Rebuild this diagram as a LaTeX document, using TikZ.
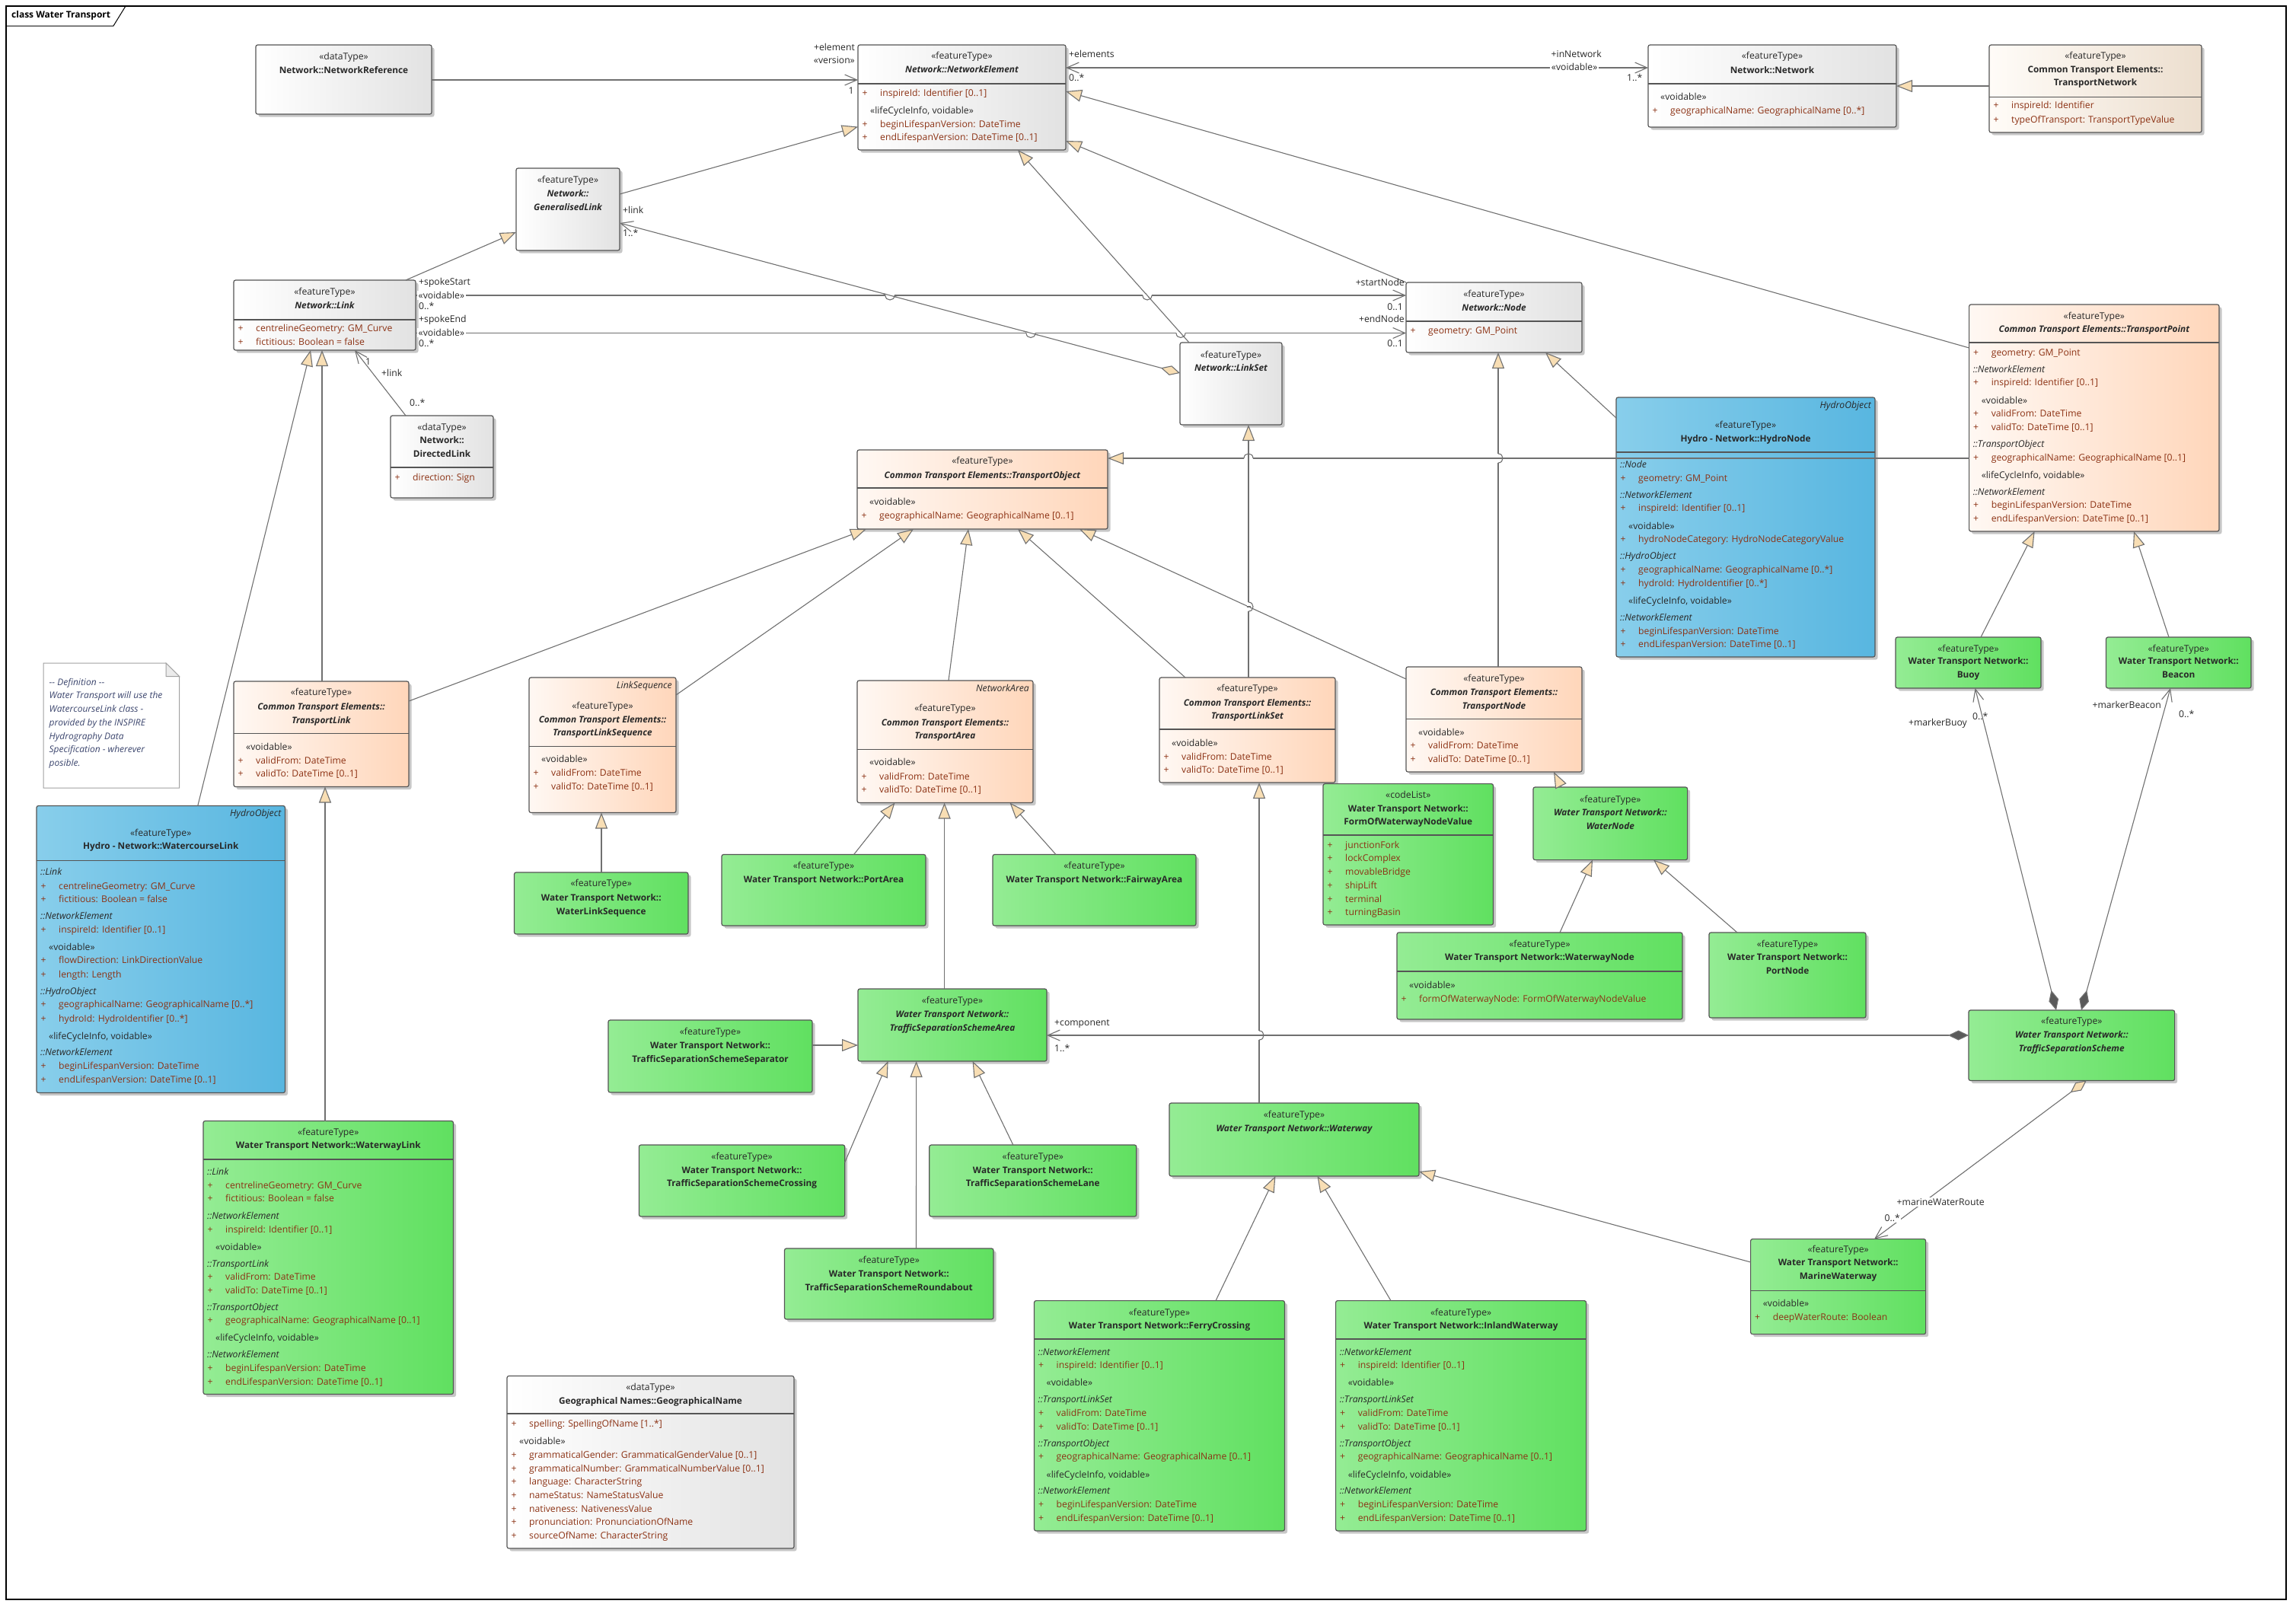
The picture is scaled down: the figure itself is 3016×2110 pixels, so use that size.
\documentclass[tikz,border=0pt]{standalone}
\usepackage{fontspec}
\setmainfont{Open Sans}
\usetikzlibrary{arrows.meta,shadows,calc}
\definecolor{bord}{RGB}{85,85,85}
\definecolor{conn}{RGB}{112,112,112}
\definecolor{txt}{RGB}{40,40,40}
\definecolor{attr}{RGB}{140,50,20}
\definecolor{tri}{RGB}{248,222,180}
\definecolor{dia}{RGB}{90,90,90}
\definecolor{netL}{RGB}{255,255,255}
\definecolor{netR}{RGB}{226,226,226}
\definecolor{cteL}{RGB}{255,248,243}
\definecolor{cteR}{RGB}{255,214,186}
\definecolor{tnL}{RGB}{255,252,248}
\definecolor{tnR}{RGB}{236,222,206}
\definecolor{grL}{RGB}{148,236,148}
\definecolor{grR}{RGB}{96,224,96}
\definecolor{blL}{RGB}{136,206,235}
\definecolor{blR}{RGB}{88,182,224}
\definecolor{notec}{RGB}{60,70,110}
\definecolor{notebd}{RGB}{160,160,160}
\newcommand\fsz{\fontsize{12.2}{14}\selectfont}
\newcommand\bfsz{\fontsize{11.8}{14}\selectfont}
\newcommand\nfsz{\fontsize{12}{14}\selectfont}
\newcount\tn
\newcommand\cls[6]{\node[#6, minimum width=#4pt, minimum height=#5pt] (#1) at (#2,#3) {};}
\newcommand\dv[2]{\draw[divl] (#1.west |- 0,#2) -- (#1.east |- 0,#2);}
\newcommand\Hd[4]{\global\advance\tn by 1 \node[#1] (t\the\tn) at (#2.north |- 0,#3) {#4};}
\newcommand\Att[3]{\global\advance\tn by 1 \node[pl] (t\the\tn) at ($(#1.west |- 0,#2)+(9,0)$) {+};%
 \global\advance\tn by 1 \node[atx] (t\the\tn) at ($(#1.west |- 0,#2)+(29,0)$) {#3};}
\newcommand\Sec[3]{\global\advance\tn by 1 \node[sec] (t\the\tn) at ($(#1.west |- 0,#2)+(5,0)$) {#3};}
\newcommand\Ster[3]{\global\advance\tn by 1 \node[ster] (t\the\tn) at ($(#1.west |- 0,#2)+(16,0)$) {#3};}
\newcommand\Itr[3]{\global\advance\tn by 1 \node[sec, anchor=mid east] (t\the\tn) at ($(#1.east |- 0,#2)+(-5,0)$) {#3};}
\newcommand\Lb[5]{\global\advance\tn by 1 \node[#1, anchor=#2] (t\the\tn) at (#3,#4) {#5};}
\newcommand\vjump[2]{\fill[white] ({#1-2},{#2-6}) rectangle ({#1+2},{#2+6});
 \draw[cn] ({#1-2.5},#2) -- ({#1+2.5},#2);
 \draw[cn] (#1,{#2-6}) .. controls ({#1+8},{#2-6}) and ({#1+8},{#2+6}) .. (#1,{#2+6});}
\newcommand\hjmp[4]{\fill[white] ({#1-6},{#2-2}) rectangle ({#1+6},{#2+2});
 \draw[cn] ({#1-2.5*#3},{#2-2.5}) -- ({#1+2.5*#3},{#2+2.5});
 \draw[cn] ({#1-6},#2) .. controls ({#1-6},{#2+#4}) and ({#1+6},{#2+#4}) .. ({#1+6},#2);}
\tikzset{
 boxbase/.style={draw=bord, line width=1.2pt, rounded corners=2.5pt, inner sep=0pt, outer sep=0pt, anchor=north west,
   drop shadow={shadow xshift=3.5pt, shadow yshift=-3.5pt, fill=black, opacity=.22}},
 netbox/.style={boxbase, left color=netL, right color=netR},
 ctebox/.style={boxbase, left color=cteL, right color=cteR},
 tnbox/.style={boxbase, left color=tnL, right color=tnR},
 grbox/.style={boxbase, left color=grL, right color=grR},
 bluebox/.style={boxbase, left color=blL, right color=blR},
 divl/.style={draw=bord, line width=1.2pt},
 st/.style={font=\fsz, text=txt, inner sep=0pt, anchor=mid},
 nb/.style={st, font=\bfsz\bfseries},
 nbi/.style={st, font=\bfsz\bfseries\itshape},
 pl/.style={font=\fsz, text=attr, inner sep=0pt, anchor=mid},
 atx/.style={font=\fsz, text=attr, inner sep=0pt, anchor=mid west},
 sec/.style={font=\fsz\itshape, text=txt, inner sep=0pt, anchor=mid west},
 ster/.style={font=\fsz, text=txt, inner sep=0pt, anchor=mid west},
 lab/.style={font=\fsz, text=txt, inner sep=0pt},
 labw/.style={lab, fill=white, inner sep=1.5pt},
 notet/.style={font=\nfsz\itshape, text=notec, inner sep=0pt, anchor=mid west},
 cn/.style={draw=conn, line width=1.1pt},
 gen/.style={cn, -{Triangle[length=21pt,width=16pt,fill=tri]}},
 asc/.style={cn, -{Straight Barb[length=16pt,width=14pt]}},
 asc2/.style={cn, {Straight Barb[length=16pt,width=14pt]}-{Straight Barb[length=16pt,width=14pt]}},
 comp/.style={cn, {Diamond[length=27pt,width=13pt,fill=dia]}-{Straight Barb[length=16pt,width=14pt]}},
 aggr/.style={cn, {Diamond[length=26pt,width=13pt,fill=tri]}-{Straight Barb[length=16pt,width=14pt]}},
}
\begin{document}
\begin{tikzpicture}[x=1pt,y=-1pt]
\useasboundingbox (0,0) rectangle (3016,2110);
\fill[white] (0,0) rectangle (3016,2110);
\draw[black, line width=1.2pt] (8,8) rectangle (3003,2101);
\draw[black, line width=1pt] (8,34) -- (149,34) -- (165,8);
\node[anchor=mid west, font=\fontsize{12}{14}\selectfont\bfseries, inner sep=0pt] (title) at (15,21) {class Water Transport};

% ---------- boxes
\cls{netref}{336}{59}{231}{91}{netbox}
\cls{ne}{1127}{59}{273}{138}{netbox}
\cls{network}{2165}{59}{326}{108}{netbox}
\cls{genlink}{678}{221}{136}{108}{netbox}
\cls{link}{307}{368}{239}{92}{netbox}
\cls{dirlink}{513}{546}{135}{108}{netbox}
\cls{node}{1847}{371}{231}{92}{netbox}
\cls{linkset}{1550}{450}{134}{108}{netbox}
\cls{geoname}{666}{1807.5}{377}{226.5}{netbox}
\cls{tnet}{2613}{59}{279}{115}{tnbox}
\cls{tpoint}{2586.6}{400}{328.4}{298}{ctebox}
\cls{tobj}{1126}{591}{329}{104}{ctebox}
\cls{tlink}{307}{895}{230}{138.5}{ctebox}
\cls{tlseq}{695}{890}{193}{177.5}{ctebox}
\cls{tarea}{1126}{894}{231}{160.5}{ctebox}
\cls{tlset}{1523}{890}{231}{138}{ctebox}
\cls{tnode}{1847}{876}{231}{138}{ctebox}
\cls{hnode}{2123}{522}{340}{341}{bluebox}
\cls{wclink}{48}{1058.5}{326.5}{377}{bluebox}
\cls{wlseq}{675.5}{1146}{228.5}{81}{grbox}
\cls{portarea}{948}{1122.5}{268}{93.5}{grbox}
\cls{fairway}{1304}{1122.5}{267}{93.5}{grbox}
\cls{fwnv}{1738}{1029.6}{223.5}{185.4}{grbox}
\cls{waternode}{2014}{1034}{202.6}{95.6}{grbox}
\cls{wwnode}{1835}{1225}{375}{114}{grbox}
\cls{portnode}{2245}{1225}{206}{112}{grbox}
\cls{buoy}{2490}{837}{191}{67}{grbox}
\cls{beacon}{2766.5}{837}{190.5}{67}{grbox}
\cls{tss}{2586}{1327}{270.6}{92.5}{grbox}
\cls{tssarea}{1127}{1299}{248}{95}{grbox}
\cls{tsssep}{799}{1340}{268}{95}{grbox}
\cls{tsscross}{839.4}{1504}{270.3}{94}{grbox}
\cls{tsslane}{1220.8}{1504}{272}{94}{grbox}
\cls{tssround}{1030.5}{1640}{274.5}{93}{grbox}
\cls{waterway}{1536}{1449}{328}{96}{grbox}
\cls{marine}{2299.6}{1627.6}{230}{125}{grbox}
\cls{ferry}{1358.5}{1708.6}{329}{302.4}{grbox}
\cls{inland}{1754.6}{1708.6}{329}{302.4}{grbox}
\cls{wwlink}{267}{1472.5}{328.5}{359}{grbox}

% ---------- note
\draw[draw=notebd, fill=white, line width=1pt] (57,871) -- (218,871) -- (235.7,888.7) -- (235.7,1035) -- (57,1035) -- cycle;
\draw[draw=notebd, fill=black!8, line width=1pt] (218,871) -- (218,888.7) -- (235.7,888.7) -- cycle;
\Lb{notet}{mid west}{64.5}{897.8}{-{}- Definition -{}-}
\Lb{notet}{mid west}{64.5}{915}{Water Transport will use the}
\Lb{notet}{mid west}{64.5}{933}{WatercourseLink class -}
\Lb{notet}{mid west}{64.5}{951}{provided by the INSPIRE}
\Lb{notet}{mid west}{64.5}{969}{Hydrography Data}
\Lb{notet}{mid west}{64.5}{986}{Specification - wherever}
\Lb{notet}{mid west}{64.5}{1004}{posible.}

% ---------- box contents
\Hd{st}{netref}{76}{«dataType»}
\Hd{nb}{netref}{94}{Network::NetworkReference}

\dv{ne}{110}
\Hd{st}{ne}{75}{«featureType»}
\Hd{nbi}{ne}{93}{Network::NetworkElement}
\Att{ne}{124}{inspireId: Identifier [0..1]}
\Ster{ne}{147}{«lifeCycleInfo, voidable»}
\Att{ne}{165}{beginLifespanVersion: DateTime}
\Att{ne}{182}{endLifespanVersion: DateTime [0..1]}

\dv{network}{110}
\Hd{st}{network}{75}{«featureType»}
\Hd{nb}{network}{93.5}{Network::Network}
\Ster{network}{129}{«voidable»}
\Att{network}{147}{geographicalName: GeographicalName [0..*]}

\Hd{st}{genlink}{237.5}{«featureType»}
\Hd{nbi}{genlink}{256}{Network::}
\Hd{nbi}{genlink}{274}{GeneralisedLink}

\dv{link}{420}
\Hd{st}{link}{385}{«featureType»}
\Hd{nbi}{link}{403}{Network::Link}
\Att{link}{433}{centrelineGeometry: GM\_Curve}
\Att{link}{451}{fictitious: Boolean = false}

\dv{dirlink}{614}
\Hd{st}{dirlink}{562.5}{«dataType»}
\Hd{nb}{dirlink}{580}{Network::}
\Hd{nb}{dirlink}{598}{DirectedLink}
\Att{dirlink}{629}{direction: Sign}

\dv{node}{422}
\Hd{st}{node}{388}{«featureType»}
\Hd{nbi}{node}{406}{Network::Node}
\Att{node}{436}{geometry: GM\_Point}

\Hd{st}{linkset}{468}{«featureType»}
\Hd{nbi}{linkset}{485}{Network::LinkSet}

\dv{geoname}{1857}
\Hd{st}{geoname}{1823.6}{«dataType»}
\Hd{nb}{geoname}{1841.5}{Geographical Names::GeographicalName}
\Att{geoname}{1872}{spelling: SpellingOfName [1..*]}
\Ster{geoname}{1894.5}{«voidable»}
\Att{geoname}{1913}{grammaticalGender: GrammaticalGenderValue [0..1]}
\Att{geoname}{1930.5}{grammaticalNumber: GrammaticalNumberValue [0..1]}
\Att{geoname}{1948}{language: CharacterString}
\Att{geoname}{1966}{nameStatus: NameStatusValue}
\Att{geoname}{1984}{nativeness: NativenessValue}
\Att{geoname}{2001}{pronunciation: PronunciationOfName}
\Att{geoname}{2019}{sourceOfName: CharacterString}

\dv{tnet}{127.7}
\Hd{st}{tnet}{75}{«featureType»}
\Hd{nb}{tnet}{93}{Common Transport Elements::}
\Hd{nb}{tnet}{110}{TransportNetwork}
\Att{tnet}{140}{inspireId: Identifier}
\Att{tnet}{158.7}{typeOfTransport: TransportTypeValue}

\dv{tpoint}{450}
\Hd{st}{tpoint}{416.4}{«featureType»}
\Hd{nbi}{tpoint}{434}{Common Transport Elements::TransportPoint}
\Att{tpoint}{465}{geometry: GM\_Point}
\Sec{tpoint}{486.4}{::NetworkElement}
\Att{tpoint}{503.6}{inspireId: Identifier [0..1]}
\Ster{tpoint}{527.5}{«voidable»}
\Att{tpoint}{544.6}{validFrom: DateTime}
\Att{tpoint}{562.5}{validTo: DateTime [0..1]}
\Sec{tpoint}{584.6}{::TransportObject}
\Att{tpoint}{602.9}{geographicalName: GeographicalName [0..1]}
\Ster{tpoint}{625.7}{«lifeCycleInfo, voidable»}
\Sec{tpoint}{647.5}{::NetworkElement}
\Att{tpoint}{665}{beginLifespanVersion: DateTime}
\Att{tpoint}{682.9}{endLifespanVersion: DateTime [0..1]}

\dv{tobj}{641}
\Hd{st}{tobj}{607}{«featureType»}
\Hd{nbi}{tobj}{626}{Common Transport Elements::TransportObject}
\Ster{tobj}{661}{«voidable»}
\Att{tobj}{679}{geographicalName: GeographicalName [0..1]}

\dv{tlink}{963.5}
\Hd{st}{tlink}{911}{«featureType»}
\Hd{nbi}{tlink}{930}{Common Transport Elements::}
\Hd{nbi}{tlink}{948}{TransportLink}
\Ster{tlink}{982.5}{«voidable»}
\Att{tlink}{1001}{validFrom: DateTime}
\Att{tlink}{1018}{validTo: DateTime [0..1]}

\dv{tlseq}{980.5}
\Itr{tlseq}{902}{LinkSequence}
\Hd{st}{tlseq}{929}{«featureType»}
\Hd{nbi}{tlseq}{946.5}{Common Transport Elements::}
\Hd{nbi}{tlseq}{963.5}{TransportLinkSequence}
\Ster{tlseq}{999}{«voidable»}
\Att{tlseq}{1016.5}{validFrom: DateTime}
\Att{tlseq}{1035}{validTo: DateTime [0..1]}

\dv{tarea}{984.5}
\Itr{tarea}{906}{NetworkArea}
\Hd{st}{tarea}{932}{«featureType»}
\Hd{nbi}{tarea}{950.5}{Common Transport Elements::}
\Hd{nbi}{tarea}{967.5}{TransportArea}
\Ster{tarea}{1003}{«voidable»}
\Att{tarea}{1021.5}{validFrom: DateTime}
\Att{tarea}{1038.7}{validTo: DateTime [0..1]}

\dv{tlset}{958}
\Hd{st}{tlset}{906}{«featureType»}
\Hd{nbi}{tlset}{925}{Common Transport Elements::}
\Hd{nbi}{tlset}{941.5}{TransportLinkSet}
\Ster{tlset}{977.5}{«voidable»}
\Att{tlset}{995.7}{validFrom: DateTime}
\Att{tlset}{1013}{validTo: DateTime [0..1]}

\dv{tnode}{944.6}
\Hd{st}{tnode}{893}{«featureType»}
\Hd{nbi}{tnode}{910.7}{Common Transport Elements::}
\Hd{nbi}{tnode}{928.6}{TransportNode}
\Ster{tnode}{963.6}{«voidable»}
\Att{tnode}{981}{validFrom: DateTime}
\Att{tnode}{999}{validTo: DateTime [0..1]}

\dv{hnode}{594}
\Itr{hnode}{533.6}{HydroObject}
\Hd{st}{hnode}{559.6}{«featureType»}
\Hd{nb}{hnode}{577.5}{Hydro - Network::HydroNode}
\Sec{hnode}{611.8}{::Node}
\Att{hnode}{629.6}{geometry: GM\_Point}
\Sec{hnode}{651.4}{::NetworkElement}
\Att{hnode}{668.6}{inspireId: Identifier [0..1]}
\Ster{hnode}{692.9}{«voidable»}
\Att{hnode}{709.6}{hydroNodeCategory: HydroNodeCategoryValue}
\Sec{hnode}{731.8}{::HydroObject}
\Att{hnode}{749.6}{geographicalName: GeographicalName [0..*]}
\Att{hnode}{767.5}{hydroId: HydroIdentifier [0..*]}
\Ster{hnode}{790.4}{«lifeCycleInfo, voidable»}
\Sec{hnode}{812.5}{::NetworkElement}
\Att{hnode}{830.7}{beginLifespanVersion: DateTime}
\Att{hnode}{847.9}{endLifespanVersion: DateTime [0..1]}

\dv{wclink}{1130.6}
\Itr{wclink}{1070}{HydroObject}
\Hd{st}{wclink}{1096}{«featureType»}
\Hd{nb}{wclink}{1112.8}{Hydro - Network::WatercourseLink}
\Sec{wclink}{1147}{::Link}
\Att{wclink}{1165.6}{centrelineGeometry: GM\_Curve}
\Att{wclink}{1183}{fictitious: Boolean = false}
\Sec{wclink}{1205}{::NetworkElement}
\Att{wclink}{1223}{inspireId: Identifier [0..1]}
\Ster{wclink}{1246}{«voidable»}
\Att{wclink}{1263}{flowDirection: LinkDirectionValue}
\Att{wclink}{1281.8}{length: Length}
\Sec{wclink}{1303.5}{::HydroObject}
\Att{wclink}{1321.3}{geographicalName: GeographicalName [0..*]}
\Att{wclink}{1339.6}{hydroId: HydroIdentifier [0..*]}
\Ster{wclink}{1362.7}{«lifeCycleInfo, voidable»}
\Sec{wclink}{1384}{::NetworkElement}
\Att{wclink}{1401.6}{beginLifespanVersion: DateTime}
\Att{wclink}{1419.6}{endLifespanVersion: DateTime [0..1]}

\Hd{st}{wlseq}{1162}{«featureType»}
\Hd{nb}{wlseq}{1181}{Water Transport Network::}
\Hd{nb}{wlseq}{1199}{WaterLinkSequence}

\Hd{st}{portarea}{1139}{«featureType»}
\Hd{nb}{portarea}{1156.5}{Water Transport Network::PortArea}
\Hd{st}{fairway}{1139}{«featureType»}
\Hd{nb}{fairway}{1156.5}{Water Transport Network::FairwayArea}

\dv{fwnv}{1097}
\Hd{st}{fwnv}{1045.7}{«codeList»}
\Hd{nb}{fwnv}{1063.6}{Water Transport Network::}
\Hd{nb}{fwnv}{1081}{FormOfWaterwayNodeValue}
\Att{fwnv}{1111.8}{junctionFork}
\Att{fwnv}{1128.9}{lockComplex}
\Att{fwnv}{1146.8}{movableBridge}
\Att{fwnv}{1164.6}{shipLift}
\Att{fwnv}{1182.9}{terminal}
\Att{fwnv}{1199.6}{turningBasin}

\Hd{st}{waternode}{1051.8}{«featureType»}
\Hd{nbi}{waternode}{1068.6}{Water Transport Network::}
\Hd{nbi}{waternode}{1086.4}{WaterNode}

\dv{wwnode}{1276}
\Hd{st}{wwnode}{1242}{«featureType»}
\Hd{nb}{wwnode}{1259}{Water Transport Network::WaterwayNode}
\Ster{wwnode}{1296}{«voidable»}
\Att{wwnode}{1313.6}{formOfWaterwayNode: FormOfWaterwayNodeValue}

\Hd{st}{portnode}{1242}{«featureType»}
\Hd{nb}{portnode}{1259}{Water Transport Network::}
\Hd{nb}{portnode}{1277}{PortNode}

\Hd{st}{buoy}{854}{«featureType»}
\Hd{nb}{buoy}{870}{Water Transport Network::}
\Hd{nb}{buoy}{888}{Buoy}
\Hd{st}{beacon}{854}{«featureType»}
\Hd{nb}{beacon}{870}{Water Transport Network::}
\Hd{nb}{beacon}{888}{Beacon}

\Hd{st}{tss}{1343}{«featureType»}
\Hd{nbi}{tss}{1361}{Water Transport Network::}
\Hd{nbi}{tss}{1378.7}{TrafficSeparationScheme}

\Hd{st}{tssarea}{1315.7}{«featureType»}
\Hd{nbi}{tssarea}{1333.7}{Water Transport Network::}
\Hd{nbi}{tssarea}{1351.7}{TrafficSeparationSchemeArea}

\Hd{st}{tsssep}{1357}{«featureType»}
\Hd{nb}{tsssep}{1375}{Water Transport Network::}
\Hd{nb}{tsssep}{1392.7}{TrafficSeparationSchemeSeparator}

\Hd{st}{tsscross}{1520.7}{«featureType»}
\Hd{nb}{tsscross}{1538.7}{Water Transport Network::}
\Hd{nb}{tsscross}{1555.7}{TrafficSeparationSchemeCrossing}

\Hd{st}{tsslane}{1520.7}{«featureType»}
\Hd{nb}{tsslane}{1538.7}{Water Transport Network::}
\Hd{nb}{tsslane}{1555.7}{TrafficSeparationSchemeLane}

\Hd{st}{tssround}{1657}{«featureType»}
\Hd{nb}{tssround}{1675}{Water Transport Network::}
\Hd{nb}{tssround}{1692.7}{TrafficSeparationSchemeRoundabout}

\Hd{st}{waterway}{1466}{«featureType»}
\Hd{nbi}{waterway}{1483.7}{Water Transport Network::Waterway}

\dv{marine}{1695.6}
\Hd{st}{marine}{1643}{«featureType»}
\Hd{nb}{marine}{1660}{Water Transport Network::}
\Hd{nb}{marine}{1678}{MarineWaterway}
\Ster{marine}{1714}{«voidable»}
\Att{marine}{1732}{deepWaterRoute: Boolean}

\dv{ferry}{1759}
\Hd{st}{ferry}{1725.6}{«featureType»}
\Hd{nb}{ferry}{1742.6}{Water Transport Network::FerryCrossing}
\Sec{ferry}{1777.4}{::NetworkElement}
\Att{ferry}{1795}{inspireId: Identifier [0..1]}
\Ster{ferry}{1817.7}{«voidable»}
\Sec{ferry}{1839.6}{::TransportLinkSet}
\Att{ferry}{1857.4}{validFrom: DateTime}
\Att{ferry}{1875.6}{validTo: DateTime [0..1]}
\Sec{ferry}{1897.6}{::TransportObject}
\Att{ferry}{1915}{geographicalName: GeographicalName [0..1]}
\Ster{ferry}{1939}{«lifeCycleInfo, voidable»}
\Sec{ferry}{1960}{::NetworkElement}
\Att{ferry}{1978}{beginLifespanVersion: DateTime}
\Att{ferry}{1996}{endLifespanVersion: DateTime [0..1]}

\dv{inland}{1759}
\Hd{st}{inland}{1725.6}{«featureType»}
\Hd{nb}{inland}{1742.6}{Water Transport Network::InlandWaterway}
\Sec{inland}{1777.4}{::NetworkElement}
\Att{inland}{1795}{inspireId: Identifier [0..1]}
\Ster{inland}{1817.7}{«voidable»}
\Sec{inland}{1839.6}{::TransportLinkSet}
\Att{inland}{1857.4}{validFrom: DateTime}
\Att{inland}{1875.6}{validTo: DateTime [0..1]}
\Sec{inland}{1897.6}{::TransportObject}
\Att{inland}{1915}{geographicalName: GeographicalName [0..1]}
\Ster{inland}{1939}{«lifeCycleInfo, voidable»}
\Sec{inland}{1960}{::NetworkElement}
\Att{inland}{1978}{beginLifespanVersion: DateTime}
\Att{inland}{1996}{endLifespanVersion: DateTime [0..1]}

\dv{wwlink}{1523}
\Hd{st}{wwlink}{1489}{«featureType»}
\Hd{nb}{wwlink}{1505.6}{Water Transport Network::WaterwayLink}
\Sec{wwlink}{1540.6}{::Link}
\Att{wwlink}{1558.5}{centrelineGeometry: GM\_Curve}
\Att{wwlink}{1576}{fictitious: Boolean = false}
\Sec{wwlink}{1599}{::NetworkElement}
\Att{wwlink}{1616.5}{inspireId: Identifier [0..1]}
\Ster{wwlink}{1639.6}{«voidable»}
\Sec{wwlink}{1661.6}{::TransportLink}
\Att{wwlink}{1678.6}{validFrom: DateTime}
\Att{wwlink}{1696.6}{validTo: DateTime [0..1]}
\Sec{wwlink}{1718.6}{::TransportObject}
\Att{wwlink}{1736}{geographicalName: GeographicalName [0..1]}
\Ster{wwlink}{1758.8}{«lifeCycleInfo, voidable»}
\Sec{wwlink}{1781}{::NetworkElement}
\Att{wwlink}{1798.5}{beginLifespanVersion: DateTime}
\Att{wwlink}{1816.6}{endLifespanVersion: DateTime [0..1]}

% ---------- generalizations
\draw[gen] ($(genlink.north east)+(0,34)$) -- ($(ne.north west)+(0,107.5)$);
\draw[gen] ($(link.north west)+(226,0)$) -- ($(genlink.north west)+(0,84)$);
\draw[gen] ($(wclink.north west)+(211.8,0)$) -- ($(link.south west)+(101,0)$);
\draw[gen] ($(tlink.north west)+(116,0)$) -- ($(link.south west)+(116,0)$);
\draw[gen] ($(linkset.north west)+(12,0)$) -- ($(ne.south west)+(210,0)$);
\draw[gen] (node.north west) -- ($(ne.south east)+(0,-12)$);
\draw[gen] ($(tpoint.north west)+(0,57)$) -- ($(ne.north east)+(0,61)$);
\draw[gen] ($(hnode.north west)+(0,27)$) -- ($(node.south west)+(183,0)$);
\draw[gen] ($(tnode.north west)+(121,0)$) -- ($(node.south west)+(121,0)$);
\draw[gen] ($(tlset.north west)+(117,0)$) -- ($(linkset.south west)+(90,0)$);
\draw[gen] ($(tpoint.north west)+(0,202)$) -- ($(tobj.north east)+(0,11)$);
\draw[gen] ($(tlink.north east)+(0,26)$) -- ($(tobj.south west)+(12,0)$);
\draw[gen] ($(tlseq.north east)+(0,23)$) -- ($(tobj.south west)+(74,0)$);
\draw[gen] ($(tarea.north west)+(120,0)$) -- ($(tobj.south west)+(146,0)$);
\draw[gen] ($(tlset.north west)+(34,0)$) -- ($(tobj.south west)+(211,0)$);
\draw[gen] ($(tnode.north west)+(0,16)$) -- ($(tobj.south west)+(292,0)$);
\draw[gen] ($(wlseq.north west)+(114.5,0)$) -- ($(tlseq.south west)+(95,0)$);
\draw[gen] ($(portarea.north west)+(173.6,0)$) -- ($(tarea.south west)+(49.5,0)$);
\draw[gen] ($(tssarea.north west)+(113.6,0)$) -- ($(tarea.south west)+(114.6,0)$);
\draw[gen] ($(fairway.north west)+(83,0)$) -- ($(tarea.south west)+(200.5,0)$);
\draw[gen] ($(buoy.north west)+(112,0)$) -- ($(tpoint.south west)+(86,0)$);
\draw[gen] ($(beacon.north west)+(82.5,0)$) -- ($(tpoint.south west)+(216.4,0)$);
\draw[gen] ($(tnet.north west)+(0,54)$) -- ($(network.north east)+(0,54)$);
\draw[gen] ($(waternode.north west)+(37,0)$) -- ($(tnode.south west)+(194,0)$);
\draw[gen] ($(wwnode.north west)+(214,0)$) -- ($(waternode.south west)+(78,0)$);
\draw[gen] ($(portnode.north west)+(37,0)$) -- ($(waternode.south west)+(158,0)$);
\draw[gen] ($(tsssep.north east)+(0,33)$) -- ($(tssarea.north west)+(0,74)$);
\draw[gen] ($(tsscross.north east)+(0,23)$) -- ($(tssarea.south west)+(39.6,0)$);
\draw[gen] ($(tssround.north west)+(173,0)$) -- ($(tssarea.south west)+(76.6,0)$);
\draw[gen] ($(tsslane.north west)+(110,0)$) -- ($(tssarea.south west)+(150.6,0)$);
\draw[gen] ($(waterway.north west)+(118,0)$) -- ($(tlset.south west)+(131,0)$);
\draw[gen] ($(ferry.north west)+(238.5,0)$) -- ($(waterway.south west)+(139.4,0)$);
\draw[gen] ($(inland.north west)+(72.4,0)$) -- ($(waterway.south west)+(194.5,0)$);
\draw[gen] ($(marine.north west)+(0,30.4)$) -- ($(waterway.south east)+(0,-6)$);
\draw[gen] ($(wwlink.north west)+(160,0)$) -- ($(tlink.south west)+(120,0)$);

% ---------- associations
\draw[asc] ($(netref.north east)+(0,46)$) -- ($(ne.north west)+(0,46)$);
\draw[asc2] ($(ne.north east)+(0,30)$) -- ($(network.north west)+(0,30)$);
\draw[asc] ($(link.north east)+(0,20)$) -- ($(node.north west)+(0,17)$);
\draw[asc] ($(link.north east)+(0,69.5)$) -- ($(node.north west)+(0,66.5)$);
\draw[asc] ($(dirlink.north west)+(20,0)$) -- ($(link.south west)+(159,0)$);
\draw[aggr] ($(linkset.north west)+(0,40)$) -- ($(genlink.north east)+(0,72)$);
\draw[comp] ($(tss.north west)+(0,33)$) -- ($(tssarea.north east)+(0,61)$);
\draw[comp] ($(tss.north west)+(115,0)$) -- ($(buoy.south west)+(104.5,0)$);
\draw[comp] ($(tss.north west)+(148,0)$) -- ($(beacon.south west)+(84.5,0)$);
\draw[aggr] ($(tss.south west)+(154.6,0)$) -- ($(marine.north west)+(162.4,0)$);

% ---------- line jumps
\vjump{1968}{602}
\hjmp{1640}{602}{0}{-8}
\vjump{1640}{797}
\vjump{1654}{1360}
\hjmp{1507}{388}{0.889}{8}
\hjmp{1551}{437.5}{0.889}{8}
\hjmp{1169}{388}{3.74}{8}
\hjmp{1354}{437.5}{3.74}{8}

% ---------- role labels
\Lb{lab}{mid east}{1123}{64}{+element}
\Lb{lab}{mid east}{1123}{81}{«version»}
\Lb{lab}{mid}{1118}{121}{1}
\Lb{lab}{mid west}{1404}{73}{+elements}
\Lb{lab}{mid west}{1404}{104}{0..*}
\Lb{lab}{mid east}{2104}{73}{+inNetwork}
\Lb{labw}{mid east}{2100}{90}{«voidable»}
\Lb{lab}{mid west}{2137}{104}{1..*}
\Lb{lab}{mid west}{550}{372}{+spokeStart}
\Lb{labw}{mid west}{548}{390}{«voidable»}
\Lb{lab}{mid west}{550}{404}{0..*}
\Lb{lab}{mid west}{550}{421}{+spokeEnd}
\Lb{labw}{mid west}{548}{439}{«voidable»}
\Lb{lab}{mid west}{550}{453}{0..*}
\Lb{lab}{mid east}{1845}{373}{+startNode}
\Lb{lab}{mid east}{1843}{405}{0..1}
\Lb{lab}{mid east}{1845}{421}{+endNode}
\Lb{lab}{mid east}{1843}{453}{0..1}
\Lb{lab}{mid west}{480}{477}{1}
\Lb{lab}{mid west}{501}{492}{+link}
\Lb{lab}{mid west}{538}{531}{0..*}
\Lb{lab}{mid west}{818}{278}{+link}
\Lb{lab}{mid west}{818}{308}{1..*}
\Lb{lab}{mid west}{1385}{1345}{+component}
\Lb{lab}{mid west}{1385}{1379}{1..*}
\Lb{lab}{mid east}{2584}{951}{+markerBuoy}
\Lb{lab}{mid west}{2591}{943}{0..*}
\Lb{lab}{mid east}{2839}{928}{+markerBeacon}
\Lb{lab}{mid west}{2862}{940}{0..*}
\Lb{labw}{mid west}{2490}{1581}{+marineWaterRoute}
\Lb{labw}{mid west}{2474}{1602}{0..*}
\end{tikzpicture}
\end{document}
